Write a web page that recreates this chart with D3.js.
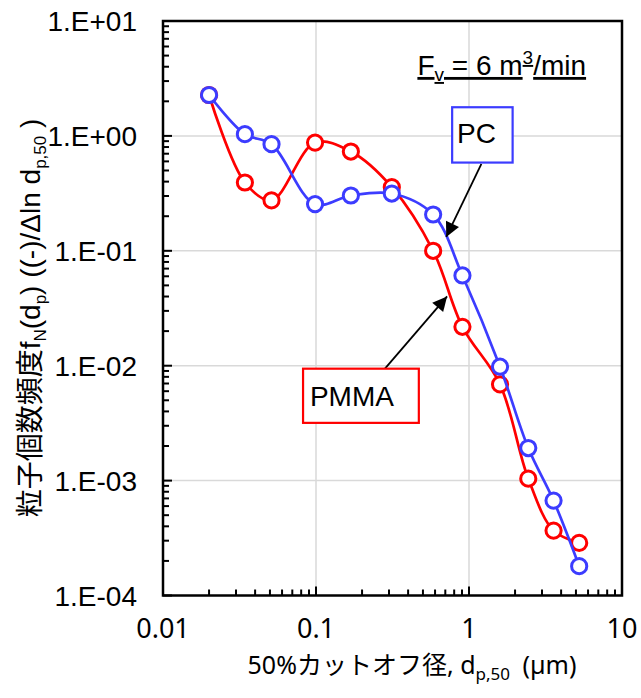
<!DOCTYPE html>
<html>
<head>
<meta charset="utf-8">
<style>
  body { margin: 0; background: #fff; }
</style>
</head>
<body>
<script src="https://cdn.jsdelivr.net/npm/d3@7"></script>
<script>
// cut-off diameter (um) and number frequency
var dp = [0.02, 0.0343, 0.0512, 0.0986, 0.169, 0.313, 0.583, 0.906, 1.595, 2.44, 3.57, 5.25];
var pc = [2.27, 1.035, 0.847, 0.255, 0.303, 0.315, 0.207, 0.061, 0.0098, 0.00192, 0.00067, 0.00018];
var pmma = [2.27, 0.393, 0.275, 0.875, 0.731, 0.358, 0.100, 0.0218, 0.00688, 0.00104, 0.000367, 0.000287];
var xTicks = [0.01, 0.1, 1, 10];
var xTickLabels = ["0.01", "0.1", "1", "10"];
var yTicks = [1e-4, 1e-3, 1e-2, 1e-1, 1, 10];
var yTickLabels = ["1.E-04", "1.E-03", "1.E-02", "1.E-01", "1.E+00", "1.E+01"];

var width = 641, height = 698;
var L = 163, R = 622, T = 21, B = 595.5;

var svg = d3.select("body").append("svg")
    .attr("width", width)
    .attr("height", height);

var x = d3.scaleLog().domain([0.01, 10]).range([L, R]);
var y = d3.scaleLog().domain([1e-4, 10]).range([B, T]);

// gridlines
svg.append("g").selectAll("line").data(xTicks.slice(1, -1)).join("line")
    .attr("x1", d => x(d)).attr("x2", d => x(d))
    .attr("y1", T).attr("y2", B)
    .attr("stroke", "#d9d9d9").attr("stroke-width", 1.5);
svg.append("g").selectAll("line").data(yTicks.slice(1, -1)).join("line")
    .attr("y1", d => y(d)).attr("y2", d => y(d))
    .attr("x1", L).attr("x2", R)
    .attr("stroke", "#d9d9d9").attr("stroke-width", 1.5);

// minor + major ticks (inside)
var xt = [], yt = [];
for (var e = -2; e < 1; e++) for (var m = 1; m < 10; m++) xt.push(m * Math.pow(10, e));
for (var e = -4; e < 1; e++) for (var m = 1; m < 10; m++) yt.push(m * Math.pow(10, e));

svg.append("g").selectAll("line").data(xt).join("line")
    .attr("x1", d => x(d)).attr("x2", d => x(d))
    .attr("y1", B).attr("y2", (d, i) => i % 9 == 0 ? B - 9 : B - 6)
    .attr("stroke", "#000").attr("stroke-width", 2);
svg.append("g").selectAll("line").data(yt).join("line")
    .attr("y1", d => y(d)).attr("y2", d => y(d))
    .attr("x1", L).attr("x2", (d, i) => i % 9 == 0 ? L + 9 : L + 6)
    .attr("stroke", "#000").attr("stroke-width", 2);

// frame
svg.append("rect")
    .attr("x", L).attr("y", T).attr("width", R - L).attr("height", B - T)
    .attr("fill", "none").attr("stroke", "#000").attr("stroke-width", 2.5);

// tick labels
svg.append("g").selectAll("text").data(yTicks).join("text")
    .attr("x", 137).attr("y", d => y(d) + 10)
    .attr("text-anchor", "end")
    .attr("font-family", "Liberation Sans, Arial, sans-serif")
    .attr("font-size", 28)
    .text((d, i) => yTickLabels[i]);
svg.append("g").selectAll("text").data(xTicks).join("text")
    .attr("x", d => x(d)).attr("y", 638)
    .attr("text-anchor", "middle")
    .attr("font-family", "Noto Sans, Open Sans, sans-serif")
    .attr("font-size", 27)
    .text((d, i) => xTickLabels[i]);

// axis titles
var xt1 = svg.append("text")
    .attr("x", 412).attr("y", 674)
    .attr("text-anchor", "middle")
    .attr("font-family", "Noto Sans, sans-serif")
    .attr("font-size", 25);
xt1.append("tspan").text("50%");
xt1.append("tspan").attr("font-family", "Noto Sans CJK JP, sans-serif").text("カットオフ径");
xt1.append("tspan").text(", d");
xt1.append("tspan").attr("font-size", 17).attr("dy", 6).text("p,50");
xt1.append("tspan").attr("dy", -6).text("\u2002(µm)");

var yt1 = svg.append("text")
    .attr("transform", "translate(40,318) rotate(-90)")
    .attr("text-anchor", "middle")
    .attr("font-size", 28)
    .attr("font-family", "Liberation Sans, Arial, sans-serif");
yt1.append("tspan").attr("font-family", "Noto Sans CJK JP, sans-serif").text("粒子個数頻度");
yt1.append("tspan").text("f");
yt1.append("tspan").attr("font-size", 17).attr("dy", 6).text("N");
yt1.append("tspan").attr("dy", -6).text("(d");
yt1.append("tspan").attr("font-size", 17).attr("dy", 6).text("p");
yt1.append("tspan").attr("dy", -6).text(") ((-)/Δln d");
yt1.append("tspan").attr("font-size", 17).attr("dy", 6).text("p,50");
yt1.append("tspan").attr("dy", -6).text(" )");

// series
var series = [
    {name: "PMMA", values: pmma, color: "#ff0000"},
    {name: "PC", values: pc, color: "#3c3cff"}
];
var line = d3.line()
    .x(d => x(d[0])).y(d => y(d[1]))
    .curve(d3.curveCatmullRom.alpha(0.5));

series.forEach(function(s) {
    var pts = dp.map((d, i) => [d, s.values[i]]);
    var g = svg.append("g");
    g.append("path").attr("d", line(pts))
        .attr("fill", "none").attr("stroke", s.color).attr("stroke-width", 2.7);
    g.selectAll("circle").data(pts).join("circle")
        .attr("cx", d => x(d[0])).attr("cy", d => y(d[1]))
        .attr("r", 7.6)
        .attr("fill", "#fff").attr("stroke", s.color).attr("stroke-width", 3);
});

// annotations (data coordinates)
var boxes = [
    {label: "PC", color: "#3c3cff", x0: 0.776, x1: 1.928, y0: 1.776, y1: 0.586, tx: 0.835, ty: 0.86},
    {label: "PMMA", color: "#ff0000", x0: 0.0823, x1: 0.470, y0: 0.00942, y1: 0.00318, tx: 0.0913, ty: 0.00449}
];
var arrows = [
    {from: [1.205, 0.571], to: [0.71, 0.132]},
    {from: [0.2786, 0.00923], to: [0.719, 0.0401]}
];

svg.append("defs").append("marker")
    .attr("id", "ah").attr("viewBox", "0 0 10 10")
    .attr("refX", 10).attr("refY", 5)
    .attr("markerWidth", 9).attr("markerHeight", 8)
    .attr("markerUnits", "strokeWidth")
    .attr("orient", "auto")
    .append("path").attr("d", "M0,0 L10,5 L0,10 z").attr("fill", "#000");

svg.append("g").selectAll("line").data(arrows).join("line")
    .attr("x1", d => x(d.from[0])).attr("y1", d => y(d.from[1]))
    .attr("x2", d => x(d.to[0])).attr("y2", d => y(d.to[1]))
    .attr("stroke", "#000").attr("stroke-width", 1.8)
    .attr("marker-end", "url(#ah)");

var bg = svg.append("g").selectAll("g").data(boxes).join("g");
bg.append("rect")
    .attr("x", d => x(d.x0)).attr("y", d => y(d.y0))
    .attr("width", d => x(d.x1) - x(d.x0)).attr("height", d => y(d.y1) - y(d.y0))
    .attr("fill", "#fff").attr("stroke", d => d.color).attr("stroke-width", 2.2);
bg.append("text")
    .attr("x", d => x(d.tx)).attr("y", d => y(d.ty))
    .attr("font-family", "Liberation Sans, Arial, sans-serif")
    .attr("font-size", 28)
    .text(d => d.label);

// flow rate
var ft = svg.append("text")
    .attr("x", x(0.46)).attr("y", y(3.39))
    .attr("font-family", "Liberation Sans, Arial, sans-serif")
    .attr("font-size", 28)
    .attr("text-decoration", "underline");
ft.append("tspan").text("F");
ft.append("tspan").attr("font-size", 19).attr("dy", 6).text("v");
ft.append("tspan").attr("dy", -6).text(" = 6 m");
ft.append("tspan").attr("font-size", 19).attr("dy", -11).text("3");
ft.append("tspan").attr("dy", 11).text("/min");
</script>
</body>
</html>
